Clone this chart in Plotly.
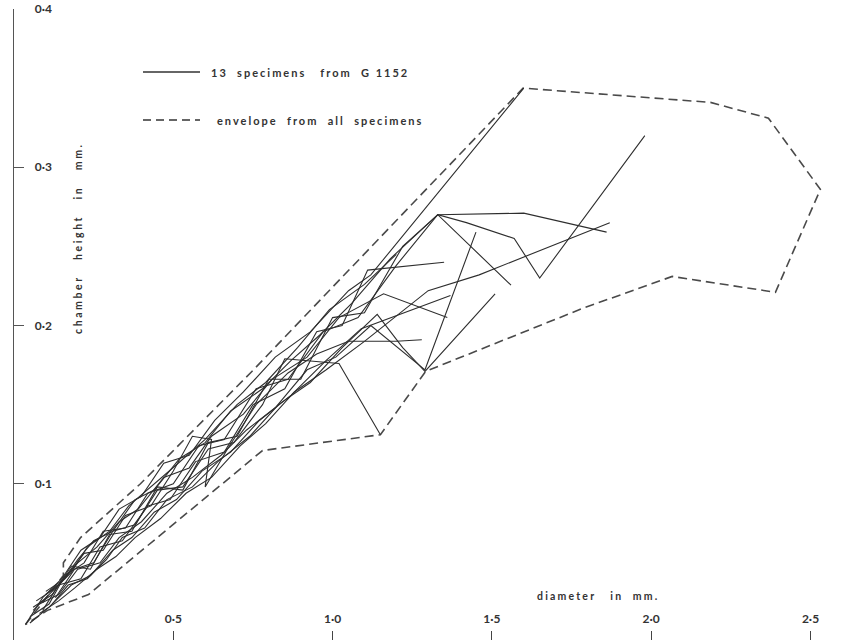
import plotly.graph_objects as go

# ---------------- data ----------------
x_tick_vals = [0.5, 1.0, 1.5, 2.0, 2.5]
x_tick_text = ["0·5", "1·0", "1·5", "2·0", "2·5"]
y_tick_vals = [0.1, 0.2, 0.3, 0.4]
y_tick_text = ["0·1", "0·2", "0·3", "0·4"]

envelope_x = [0.036, 0.155, 0.155, 0.209, 0.397, 0.742, 1.598, 2.186, 2.368, 2.531,
              2.390, 2.066, 1.787, 1.292, 1.150, 0.780, 0.234, 0.105, 0.036]
envelope_y = [0.011, 0.042, 0.050, 0.066, 0.100, 0.170, 0.350, 0.341, 0.331, 0.286,
              0.221, 0.231, 0.211, 0.171, 0.131, 0.121, 0.030, 0.020, 0.011]

s1_x = [0.036, 0.09, 0.15, 0.21, 0.27, 0.33, 0.40, 0.47, 0.55, 0.63, 0.72, 0.82, 0.93, 1.05, 1.12, 1.60]
s1_y = [0.011, 0.028, 0.040, 0.058, 0.066, 0.084, 0.092, 0.113, 0.118, 0.140, 0.158, 0.180, 0.196, 0.222, 0.232, 0.350]
s2_x = [0.05, 0.11, 0.16, 0.22, 0.28, 0.35, 0.42, 0.50, 0.58, 0.66, 0.76, 0.86, 0.97, 1.08, 1.20, 1.33, 1.42, 1.57, 1.65, 1.98]
s2_y = [0.016, 0.024, 0.042, 0.050, 0.070, 0.072, 0.094, 0.100, 0.124, 0.128, 0.160, 0.166, 0.196, 0.205, 0.238, 0.270, 0.265, 0.255, 0.230, 0.320]
s3_x = [0.06, 0.12, 0.18, 0.24, 0.30, 0.37, 0.45, 0.53, 0.61, 0.70, 0.80, 0.90, 1.00, 1.10, 1.22, 1.33, 1.60, 1.86]
s3_y = [0.022, 0.030, 0.048, 0.046, 0.068, 0.070, 0.098, 0.096, 0.126, 0.130, 0.166, 0.166, 0.205, 0.208, 0.250, 0.270, 0.271, 0.259]
s4_x = [0.08, 0.14, 0.19, 0.26, 0.32, 0.38, 0.46, 0.54, 0.62, 0.71, 0.79, 0.88, 0.98, 1.10, 1.30, 1.46, 1.87]
s4_y = [0.018, 0.026, 0.034, 0.046, 0.054, 0.066, 0.078, 0.094, 0.104, 0.124, 0.138, 0.158, 0.172, 0.190, 0.222, 0.232, 0.265]
s5_x = [0.10, 0.15, 0.20, 0.25, 0.31, 0.38, 0.44, 0.52, 0.60, 0.68, 0.78, 0.87, 0.96, 1.06, 1.18, 1.33, 1.56]
s5_y = [0.030, 0.038, 0.052, 0.064, 0.070, 0.090, 0.096, 0.116, 0.126, 0.146, 0.160, 0.178, 0.194, 0.214, 0.242, 0.270, 0.2255]
s6_x = [0.12, 0.17, 0.23, 0.29, 0.34, 0.41, 0.48, 0.56, 0.64, 0.74, 0.83, 0.93, 1.03, 1.14, 1.22, 1.29, 1.51]
s6_y = [0.024, 0.036, 0.040, 0.052, 0.066, 0.072, 0.090, 0.098, 0.114, 0.130, 0.150, 0.164, 0.186, 0.207, 0.186, 0.171, 0.220]
s7_x = [0.07, 0.13, 0.20, 0.26, 0.33, 0.39, 0.47, 0.55, 0.62, 0.72, 0.81, 0.92, 1.02, 1.16, 1.36]
s7_y = [0.026, 0.034, 0.050, 0.060, 0.076, 0.084, 0.104, 0.110, 0.130, 0.144, 0.166, 0.180, 0.205, 0.220, 0.205]
s8_x = [0.09, 0.14, 0.21, 0.27, 0.34, 0.42, 0.49, 0.57, 0.66, 0.75, 0.85, 0.95, 1.03, 1.11, 1.35]
s8_y = [0.020, 0.036, 0.040, 0.060, 0.064, 0.086, 0.090, 0.114, 0.120, 0.150, 0.160, 0.196, 0.200, 0.235, 0.240]
s9_x = [0.05, 0.11, 0.18, 0.24, 0.31, 0.37, 0.44, 0.51, 0.59, 0.68, 0.77, 0.87, 0.98, 1.09, 1.37]
s9_y = [0.012, 0.022, 0.036, 0.042, 0.058, 0.066, 0.082, 0.090, 0.108, 0.120, 0.140, 0.156, 0.178, 0.198, 0.219]
s10_x = [0.10, 0.16, 0.22, 0.28, 0.35, 0.43, 0.50, 0.56, 0.62, 0.60, 0.67, 0.76, 0.86, 0.95, 1.05, 1.20, 1.28]
s10_y = [0.032, 0.040, 0.056, 0.058, 0.080, 0.086, 0.108, 0.130, 0.128, 0.098, 0.122, 0.150, 0.170, 0.182, 0.190, 0.190, 0.191]
s11_x = [0.13, 0.19, 0.25, 0.31, 0.38, 0.45, 0.53, 0.61, 0.69, 0.78, 0.85, 1.02, 1.15]
s11_y = [0.028, 0.046, 0.050, 0.070, 0.074, 0.096, 0.098, 0.122, 0.126, 0.150, 0.179, 0.176, 0.131]
s12_x = [0.08, 0.14, 0.20, 0.27, 0.33, 0.40, 0.48, 0.56, 0.65, 0.73, 0.82, 0.92, 1.01, 1.12, 1.29, 1.45]
s12_y = [0.024, 0.030, 0.046, 0.050, 0.066, 0.076, 0.094, 0.104, 0.118, 0.134, 0.148, 0.172, 0.180, 0.200, 0.172, 0.259]
s13_x = [0.06, 0.12, 0.18, 0.23, 0.30, 0.36, 0.43, 0.51, 0.60, 0.70, 0.79, 0.89, 0.99, 1.10, 1.20]
s13_y = [0.020, 0.032, 0.044, 0.060, 0.070, 0.086, 0.098, 0.112, 0.128, 0.150, 0.164, 0.186, 0.210, 0.226, 0.245]

specimens = [(s1_x, s1_y), (s2_x, s2_y), (s3_x, s3_y), (s4_x, s4_y), (s5_x, s5_y),
             (s6_x, s6_y), (s7_x, s7_y), (s8_x, s8_y), (s9_x, s9_y), (s10_x, s10_y),
             (s11_x, s11_y), (s12_x, s12_y), (s13_x, s13_y)]

# ---------------- figure ----------------
INK = "#333333"
FONT = "Lato, DejaVu Sans, sans-serif"

fig = go.Figure()
fig.add_trace(go.Scatter(x=envelope_x, y=envelope_y, mode="lines",
                         line=dict(color="#4a4a4a", width=1.6, dash="9px,5px"),
                         showlegend=False, hoverinfo="skip"))
for sx, sy in specimens:
    fig.add_trace(go.Scatter(x=sx, y=sy, mode="lines",
                             line=dict(color="#2e2e2e", width=1.1),
                             showlegend=False, hoverinfo="skip"))

W, H = 862, 640
ML, MT = 14, 9
PW, PH = W - ML, H - MT


def px(xp):
    return (xp - ML) / PW


def py(yp):
    return (H - yp) / PH


def spaced(t, ls=2.0):
    return '<span style="letter-spacing:%spx">%s</span>' % (ls, t)


# legend keys (custom, as in the original figure)
fig.add_shape(type="line", xref="paper", yref="paper", x0=px(143), x1=px(200), y0=py(72), y1=py(72),
              line=dict(color=INK, width=1.4))
fig.add_shape(type="line", xref="paper", yref="paper", x0=px(143), x1=px(200), y0=py(120), y1=py(120),
              line=dict(color=INK, width=1.4, dash="8px,5px"))
fig.add_annotation(xref="paper", yref="paper", x=px(209), y=py(72), xanchor="left", yanchor="middle",
                   text=spaced("13&nbsp; specimens&nbsp;&nbsp; from&nbsp; G 1152"), showarrow=False,
                   font=dict(family=FONT, size=11, color=INK, weight="bold"))
fig.add_annotation(xref="paper", yref="paper", x=px(215), y=py(121), xanchor="left", yanchor="middle",
                   text=spaced("envelope&nbsp; from&nbsp; all&nbsp; specimens"), showarrow=False,
                   font=dict(family=FONT, size=11, color=INK, weight="bold"))
fig.add_annotation(xref="paper", yref="paper", x=px(78), y=py(238), xanchor="center", yanchor="middle",
                   text=spaced("chamber&nbsp;&nbsp; height&nbsp;&nbsp; in&nbsp;&nbsp; mm.", 2.6), textangle=-90,
                   showarrow=False, font=dict(family=FONT, size=10.5, color=INK, weight="bold"))
fig.add_annotation(xref="paper", yref="paper", x=px(598), y=py(596), xanchor="center", yanchor="middle",
                   text=spaced("diameter&nbsp;&nbsp; in&nbsp; mm.", 2.2), showarrow=False,
                   font=dict(family=FONT, size=10.5, color=INK, weight="bold"))

fig.update_layout(
    width=W, height=H,
    margin=dict(l=ML, r=0, t=MT, b=0),
    paper_bgcolor="white", plot_bgcolor="white",
    showlegend=False,
    font=dict(family=FONT, color=INK),
    xaxis=dict(range=[0, PW / 318.6], showgrid=False, zeroline=False, showline=False,
               ticks="inside", ticklen=9, tickwidth=1.4, tickcolor="#444",
               tickvals=x_tick_vals, ticktext=x_tick_text,
               ticklabelposition="inside", ticklabeloverflow="allow", ticklabelstandoff=5,
               tickfont=dict(family=FONT, size=12, color=INK, weight="bold")),
    yaxis=dict(range=[(642 - 640) / 1582.6, 0.4], showgrid=False, zeroline=False,
               showline=True, linecolor="#555", linewidth=1.4, mirror=False,
               ticks="inside", ticklen=10, tickwidth=1.4, tickcolor="#555",
               tickvals=y_tick_vals, ticktext=y_tick_text,
               ticklabelposition="inside", ticklabeloverflow="allow", ticklabelstandoff=10,
               tickfont=dict(family=FONT, size=12, color=INK, weight="bold")),
)

fig.write_html("out.html")
